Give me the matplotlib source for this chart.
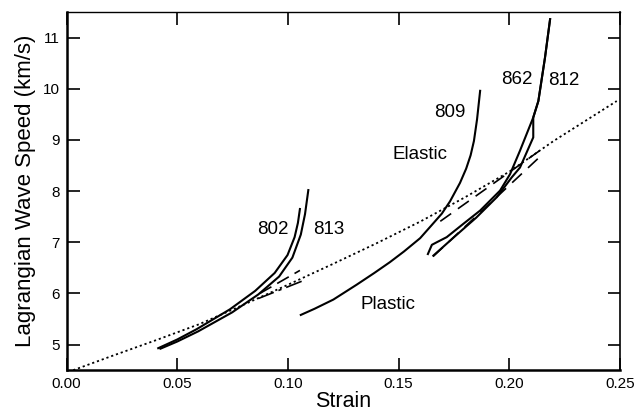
import matplotlib
matplotlib.use("Agg")
import matplotlib.pyplot as plt

plt.rcParams['font.family'] = ['Liberation Sans', 'DejaVu Sans']

# dotted reference curve
dot_x = [0.003, 0.02, 0.04, 0.06, 0.08, 0.10, 0.12, 0.14, 0.16, 0.18, 0.20, 0.22, 0.2485]
dot_y = [4.50, 4.77, 5.08, 5.40, 5.78, 6.17, 6.57, 6.98, 7.41, 7.88, 8.38, 8.98, 9.76]

# shots 802 / 813
s802_x = [0.0414, 0.05, 0.0587, 0.0738, 0.0852, 0.0940, 0.0998, 0.1030, 0.1045, 0.1054]
s802_y = [4.93, 5.10, 5.30, 5.69, 6.05, 6.40, 6.75, 7.10, 7.38, 7.65]
s813_x = [0.0424, 0.05, 0.0595, 0.0748, 0.0866, 0.0960, 0.1020, 0.1058, 0.1077, 0.1092]
s813_y = [4.92, 5.06, 5.26, 5.63, 5.98, 6.33, 6.70, 7.15, 7.55, 8.02]

# shot 809
s809_x = [0.1058, 0.112, 0.1205, 0.131, 0.139, 0.146, 0.1524, 0.1597, 0.1642, 0.1695,
          0.1732, 0.1777, 0.1805, 0.1825, 0.1840, 0.1854, 0.1868]
s809_y = [5.58, 5.70, 5.88, 6.17, 6.40, 6.61, 6.82, 7.08, 7.30, 7.56,
          7.80, 8.16, 8.44, 8.70, 8.98, 9.40, 9.96]

# shots 862 / 812
s862_x = [0.1632, 0.1650, 0.1672, 0.1717, 0.1792, 0.1868, 0.1958, 0.2003, 0.2048,
          0.2108, 0.2131, 0.2161, 0.2184]
s862_y = [6.77, 6.95, 7.00, 7.10, 7.36, 7.62, 8.01, 8.33, 8.79,
          9.44, 9.76, 10.61, 11.36]
s812_x = [0.1657, 0.1750, 0.1850, 0.1943, 0.2011, 0.2048, 0.2108, 0.2108, 0.2131,
          0.2161, 0.2184]
s812_y = [6.74, 7.10, 7.48, 7.88, 8.27, 8.46, 9.05, 9.44, 9.76,
          10.61, 11.36]

# dashed model segments
dash1_x = [0.0873, 0.1054]
dash1_y = [6.00, 6.45]
dash2_x = [0.0866, 0.1069]
dash2_y = [5.90, 6.25]
dash3_x = [0.1688, 0.2153]
dash3_y = [7.41, 8.84]
dash4_x = [0.1655, 0.2150]
dash4_y = [6.72, 8.72]

labels = ['802', '813', '809', 'Elastic', '862', '812', 'Plastic']
label_x = [0.0931, 0.1182, 0.1732, 0.1596, 0.2036, 0.2244, 0.1451]
label_y = [7.24, 7.24, 9.53, 8.72, 10.19, 10.17, 5.78]

fig = plt.figure(figsize=(6.34, 4.15), dpi=100)
ax = fig.add_axes([0.105, 0.108, 0.873, 0.863])

ax.plot(dot_x, dot_y, color='black', linestyle=(0, (1.2, 1.6)), linewidth=1.3)
for xs, ys in [(s802_x, s802_y), (s813_x, s813_y), (s809_x, s809_y),
               (s862_x, s862_y), (s812_x, s812_y)]:
    ax.plot(xs, ys, color='black', linewidth=1.5, solid_joinstyle='round')
ax.plot(dash1_x, dash1_y, color='black', linewidth=1.2, linestyle=(0, (8, 4)))
ax.plot(dash2_x, dash2_y, color='black', linewidth=1.2, linestyle=(0, (10, 3, 2, 3)))
ax.plot(dash3_x, dash3_y, color='black', linewidth=1.2, linestyle=(0, (8, 5)))
ax.plot(dash4_x, dash4_y, color='black', linewidth=1.2, linestyle=(0, (8, 5)))

for t, x, y in zip(labels, label_x, label_y):
    ax.text(x, y, t, fontsize=13.5, ha='center', va='center')

ax.set_xlim(0, 0.25)
ax.set_ylim(4.5, 11.5)
ax.set_xticks([0.0, 0.05, 0.10, 0.15, 0.20, 0.25])
ax.set_xticklabels(['0.00', '0.05', '0.10', '0.15', '0.20', '0.25'])
ax.set_yticks([5, 6, 7, 8, 9, 10, 11])
ax.tick_params(direction='in', length=9, width=1.2, top=True, right=True,
               labelsize=11, pad=5)
ax.spines['left'].set_linewidth(1.8)
ax.spines['bottom'].set_linewidth(1.8)
ax.spines['top'].set_linewidth(1.0)
ax.spines['right'].set_linewidth(1.2)

ax.set_xlabel('Strain', fontsize=15.5, labelpad=0)
ax.set_ylabel('Lagrangian Wave Speed (km/s)', fontsize=16, labelpad=5)

fig.savefig('out.png', dpi=100)
